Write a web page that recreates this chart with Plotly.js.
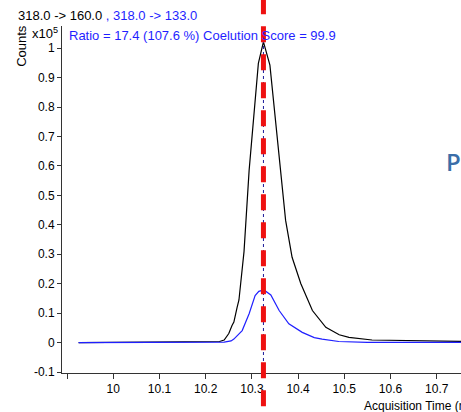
<!DOCTYPE html>
<html>
<head>
<meta charset="utf-8">
<script src="https://cdn.plot.ly/plotly-3.0.1.min.js"></script>
<style>
html,body{margin:0;padding:0;overflow:hidden;background:#fff;}
#chart{width:520px;height:412px;}
</style>
</head>
<body>
<div id="chart"></div>
<script>
// Quantifier transition 318.0 -> 160.0 (x10^5 counts)
const timeQuant = [9.925, 10.0, 10.1, 10.2, 10.23, 10.24, 10.25, 10.257, 10.261, 10.268, 10.272, 10.283, 10.294, 10.314, 10.325, 10.339, 10.362, 10.373, 10.387, 10.406, 10.431, 10.46, 10.489, 10.51, 10.56, 10.65, 10.75, 10.85];
const countsQuant = [0, 0.001, 0.001, 0.002, 0.004, 0.009, 0.031, 0.058, 0.07, 0.12, 0.145, 0.31, 0.585, 0.948, 1.021, 0.942, 0.585, 0.415, 0.29, 0.2, 0.109, 0.052, 0.027, 0.018, 0.009, 0.006, 0.0045, 0.004];
// Qualifier transition 318.0 -> 133.0
const timeQual = [9.925, 10.2, 10.222, 10.24, 10.255, 10.261, 10.279, 10.294, 10.307, 10.315, 10.326, 10.341, 10.359, 10.38, 10.409, 10.435, 10.452, 10.488, 10.55, 10.85];
const countsQual = [0, 0.001, 0.001, 0.002, 0.006, 0.012, 0.041, 0.098, 0.16, 0.174, 0.179, 0.162, 0.109, 0.064, 0.035, 0.017, 0.012, 0.004, 0.001, 0.001];
const markerTime = 10.325;
const peakCounts = 1.021;

const xTickVals = [10.0, 10.1, 10.2, 10.3, 10.4, 10.5, 10.6, 10.7];
const xTickText = ["10", "10.1", "10.2", "10.3", "10.4", "10.5", "10.6", "10.7"];
const xMinorTickVals = [9.9];
const yTickVals = [-0.1, 0, 0.1, 0.2, 0.3, 0.4, 0.5, 0.6, 0.7, 0.8, 0.9, 1];
const yTickText = ["-0.1", "0", "0.1", "0.2", "0.3", "0.4", "0.5", "0.6", "0.7", "0.8", "0.9", "1"];

const FONT = "Liberation Sans Narrow, Arial Narrow, Arial, sans-serif";
const X_RANGE = [9.889, 10.85];

const traces = [
  {x: timeQuant, y: countsQuant, type: 'scatter', mode: 'lines',
   line: {color: '#000000', width: 1.2}, hoverinfo: 'skip'},
  {x: timeQual, y: countsQual, type: 'scatter', mode: 'lines',
   line: {color: '#1f1fff', width: 1.2}, hoverinfo: 'skip'},
  {x: xMinorTickVals, y: [null], xaxis: 'x2', yaxis: 'y', type: 'scatter', mode: 'lines',
   hoverinfo: 'skip', showlegend: false}
];

const layout = {
  width: 520, height: 412,
  margin: {l: 62, r: 14, t: 26, b: 39, pad: 0},
  paper_bgcolor: '#ffffff', plot_bgcolor: '#ffffff',
  showlegend: false,
  font: {family: FONT, size: 12, color: '#000'},
  xaxis: {
    range: X_RANGE, showgrid: false, zeroline: false,
    showline: true, linecolor: '#333', linewidth: 1,
    ticks: 'outside', ticklen: 5, tickcolor: '#333', tickwidth: 1,
    tickmode: 'array', tickvals: xTickVals, ticktext: xTickText,
    tickfont: {family: FONT, size: 12, color: '#000'}
  },
  xaxis2: {
    range: X_RANGE, overlaying: 'x', anchor: 'y', side: 'bottom',
    showgrid: false, zeroline: false, showline: false, showticklabels: false,
    ticks: 'outside', ticklen: 5, tickcolor: '#333', tickwidth: 1,
    tickmode: 'array', tickvals: xMinorTickVals
  },
  yaxis: {
    range: [-0.103, 1.075], showgrid: false, zeroline: false,
    showline: true, linecolor: '#333', linewidth: 1,
    ticks: 'outside', ticklen: 4, tickcolor: '#333', tickwidth: 1,
    tickmode: 'array', tickvals: yTickVals, ticktext: yTickText,
    tickfont: {family: FONT, size: 12, color: '#000'}
  },
  shapes: [
    {type: 'line', xref: 'x', yref: 'y', x0: markerTime, x1: markerTime, y0: -0.103, y1: peakCounts,
     line: {color: '#1a1a9a', width: 1, dash: 'dot'}},
    {type: 'line', xref: 'x', yref: 'paper', x0: markerTime, x1: markerTime, y0: 1.08, y1: -0.14,
     line: {color: '#ee1111', width: 5, dash: '16px,12px'}}
  ],
  annotations: [
    {xref: 'paper', yref: 'paper', x: -0.103, y: 1.029, xanchor: 'left', yanchor: 'middle', showarrow: false,
     text: '318.0 -> 160.0 <span style="color:#1f1fff">, 318.0 -> 133.0</span>', font: {family: FONT, size: 13, color: '#000'}},
    {xref: 'paper', yref: 'paper', x: -0.09, y: 0.943, xanchor: 'center', yanchor: 'middle', showarrow: false,
     textangle: -90, text: 'Counts', font: {family: FONT, size: 13, color: '#000'}},
    {xref: 'paper', yref: 'paper', x: -0.072, y: 0.98, xanchor: 'left', yanchor: 'middle', showarrow: false,
     text: 'x10<sup>5</sup>', font: {family: FONT, size: 13, color: '#000'}},
    {xref: 'paper', yref: 'paper', x: 0.011, y: 0.974, xanchor: 'left', yanchor: 'middle', showarrow: false,
     text: 'Ratio = 17.4 (107.6 %) Coelution Score = 99.9', font: {family: FONT, size: 13, color: '#1f1fff'}},
    {xref: 'paper', yref: 'paper', x: 0.675, y: -0.095, xanchor: 'left', yanchor: 'middle', showarrow: false,
     text: 'Acquisition Time (min)', font: {family: FONT, size: 12, color: '#000'}},
    {xref: 'paper', yref: 'paper', x: 0.86, y: 0.61, xanchor: 'left', yanchor: 'middle', showarrow: false,
     text: 'P', font: {family: 'Open Sans, sans-serif', size: 24, weight: 600, color: '#3b6ea8'}}
  ]
};

Plotly.newPlot('chart', traces, layout, {staticPlot: true, displayModeBar: false});
</script>
</body>
</html>
